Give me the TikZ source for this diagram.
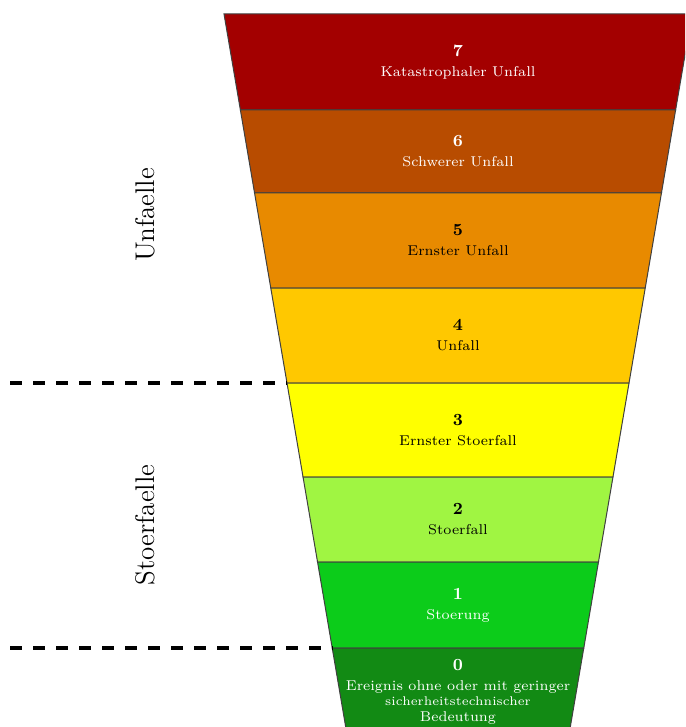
\documentclass[tikz,border=0pt]{standalone}
\usepackage{tikz}
\usetikzlibrary{calc}
\definecolor{lvlseven}{RGB}{163,0,0}
\definecolor{lvlsix}{RGB}{184,76,0}
\definecolor{lvlfive}{RGB}{232,138,0}
\definecolor{lvlfour}{RGB}{255,200,0}
\definecolor{lvlthree}{RGB}{255,255,0}
\definecolor{lvltwo}{RGB}{160,245,66}
\definecolor{lvlone}{RGB}{12,204,26}
\definecolor{lvlzero}{RGB}{18,138,20}
\tikzset{
  band/.style  = {draw=black!75, line width=0.5pt},
  level/.style = {align=center, inner sep=0pt, font=\fontsize{7.1}{8.5}\selectfont},
  sep/.style   = {line width=1.6pt, dash pattern=on 6pt off 5.5pt},
  side/.style  = {rotate=90, font=\fontsize{13.5}{15}\selectfont}
}

\begin{document}
\begin{tikzpicture}[x=0.5pt,y=-0.5pt]
\useasboundingbox (0,0) rectangle (685,727);
\clip (0,0) rectangle (685,727);
% funnel bands, top to bottom
\foreach \num/\ya/\yb/\col/\tcol/\lbl in {
    7/14/110/lvlseven/white/{Katastrophaler Unfall},
    6/110/193/lvlsix/white/{Schwerer Unfall},
    5/193/288/lvlfive/black/{Ernster Unfall},
    4/288/383/lvlfour/black/{Unfall},
    3/383/477/lvlthree/black/{Ernster Stoerfall},
    2/477/562/lvltwo/black/{Stoerfall},
    1/562/648/lvlone/white/{Stoerung},
    0/648/736/lvlzero/white/{Ereignis ohne oder mit geringer\\[-1pt]{\fontsize{6.3}{7}\selectfont sicherheitstechnischer}\\[-0.5pt]Bedeutung}}
{
  \pgfmathsetmacro{\xa}{224+0.1707*(\ya-14)}
  \pgfmathsetmacro{\xb}{224+0.1707*(\yb-14)}
  \draw[band, fill=\col] (\xa,\ya) -- (916-\xa,\ya) -- (916-\xb,\yb) -- (\xb,\yb) -- cycle;
  \coordinate (c\num) at (\xa,\ya);
  \node[level, text=\tcol] (n\num) at (458,{(\ya+\yb)/2})
    {{\fontsize{8.5}{10}\selectfont\bfseries\num}\\[1.5pt]\lbl};
}

% separators
\coordinate (s1) at (10,383);
\coordinate (s2) at (10,648);
\draw[sep] (s1) -- (c3);
\draw[sep] (s2) -- (c0);

\node[side] (unf) at (145,215) {Unfaelle};
\node[side] (stoer) at (145,525) {Stoerfaelle};
\end{tikzpicture}
\end{document}
